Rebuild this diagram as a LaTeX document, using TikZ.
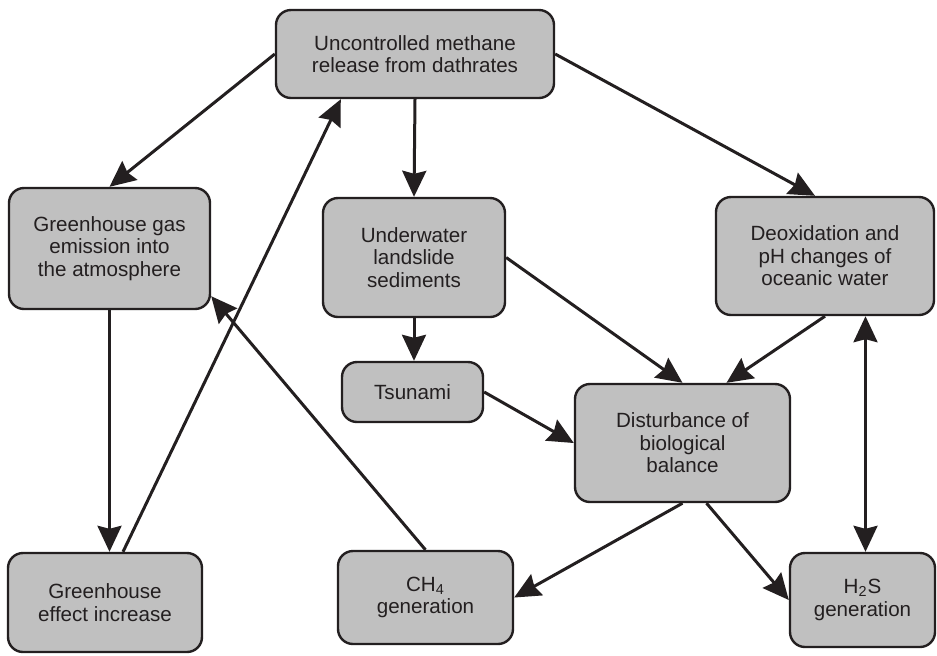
\documentclass[tikz,border=0pt]{standalone}
\usepackage{fontspec}
\setmainfont{Liberation Sans}
\usetikzlibrary{arrows.meta}
\definecolor{boxgray}{RGB}{192,192,192}
\definecolor{ink}{RGB}{35,31,32}

\begin{document}
\begin{tikzpicture}[x=0.5pt,y=-0.5pt,
        box/.style={draw=ink,fill=boxgray,line width=1.2pt,rounded corners=7.5pt,
        align=center,inner sep=0pt,text=ink,
        font=\fontsize{10.3}{11.3}\selectfont},
        tip/.tip={Stealth[length=13pt,width=12pt,inset=1.5pt]},
        link/.style={draw=ink,line width=1.5pt,-tip}]
        \useasboundingbox (0,0) rectangle (937,655);

        % boxes
        \node[box,minimum width=139pt,minimum height=44pt] (meth) at (415,54)
            {Uncontrolled methane\\release from dathrates};
        \node[box,minimum width=100.5pt,minimum height=60.5pt] (gas) at (109.5,248.5)
            {Greenhouse gas\\emission into\\the atmosphere};
        \node[box,minimum width=91pt,minimum height=59.5pt] (slide) at (414,257.5)
            {Underwater\\landslide\\sediments};
        \node[box,minimum width=109pt,minimum height=59pt] (deox) at (825,256)
            {Deoxidation and\\pH changes of\\oceanic water};
        \node[box,minimum width=70.5pt,minimum height=30pt] (tsu) at (412.5,392)
            {Tsunami};
        \node[box,minimum width=107.5pt,minimum height=59pt] (dist) at (682.5,443)
            {Disturbance of\\biological\\balance};
        \node[box,minimum width=87.5pt,minimum height=46.5pt] (ch4) at (425.5,597.5)
            {CH\textsubscript{4}\\generation};
        \node[box,minimum width=97pt,minimum height=49.5pt] (eff) at (105,602.5)
            {Greenhouse\\effect increase};
        \node[box,minimum width=72.5pt,minimum height=47pt] (hs) at (862.5,600)
            {H\textsubscript{2}S\\generation};

        % methane release
        \draw[link] (meth.west)--(gas.north);
        \draw[link] (meth.south)--(slide.north);
        \draw[link] (meth.east)--([xshift=-5pt]deox.north);

        % greenhouse loop
        \draw[link] (gas.south)--(gas.south |- eff.north);
        \draw[link] ([xshift=9pt]eff.north)--([xshift=33pt]meth.south west);
        \draw[link] (ch4.north)--([yshift=7pt]gas.south east);

        % sediments
        \draw[link] (slide.south)--(slide.south |- tsu.north);
        \draw[link] (slide.east)--(dist.north);
        \draw[link] (tsu.east)--(dist.west);

        % ocean water
        \draw[link] (deox.south)--([xshift=22pt]dist.north);
        \draw[link,tip-tip]
            ([xshift=1.5pt]hs.north |- deox.south)--([xshift=1.5pt]hs.north);

        % biological balance
        \draw[link] (dist.south)--(ch4.east);
        \draw[link] ([xshift=12pt]dist.south)--(hs.west);
\end{tikzpicture}
\end{document}
